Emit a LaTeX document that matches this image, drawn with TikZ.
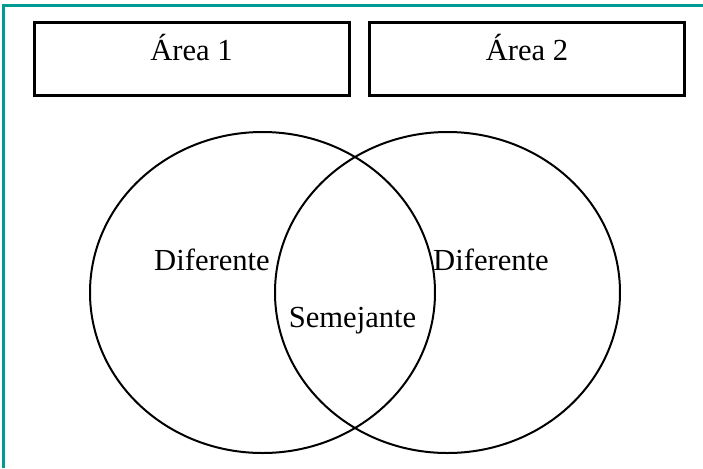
\documentclass[tikz,border=0pt]{standalone}
\usepackage{fontspec}
\setmainfont{Liberation Serif}
\usetikzlibrary{shapes.geometric}
\definecolor{frameteal}{RGB}{0,155,148}

\begin{document}
\begin{tikzpicture}[x=0.5pt,y=-0.5pt,font=\fontsize{15.3}{18}\selectfont]
\useasboundingbox (0,0) rectangle (703,468);
\draw [line width=1.5pt,frameteal] (3,468) -- (3,5) -- (703,5);

\begin{scope}[every node/.style={rectangle,draw,line width=1.5pt,minimum width=157.5pt,minimum height=36.5pt,text depth=11.5pt}]
    \node (area1) at (191.5,58.5){Área 1};
    \node (area2) at (527,58.5){Área 2};
\end{scope}

\begin{scope}[every node/.style={ellipse,draw,line width=1pt,inner sep=0pt,minimum width=172.5pt,minimum height=160.5pt}]
    \node (left) at (262.5,292.5){};
    \node (right) at (447.5,292.5){};
\end{scope}

    \node [anchor=base] (difL) at (212,270){Diferente};
    \node [anchor=base] (difR) at (491,270){Diferente};
    \node [anchor=base] (sem) at (352.5,327){Semejante};

\end{tikzpicture}
\end{document}
